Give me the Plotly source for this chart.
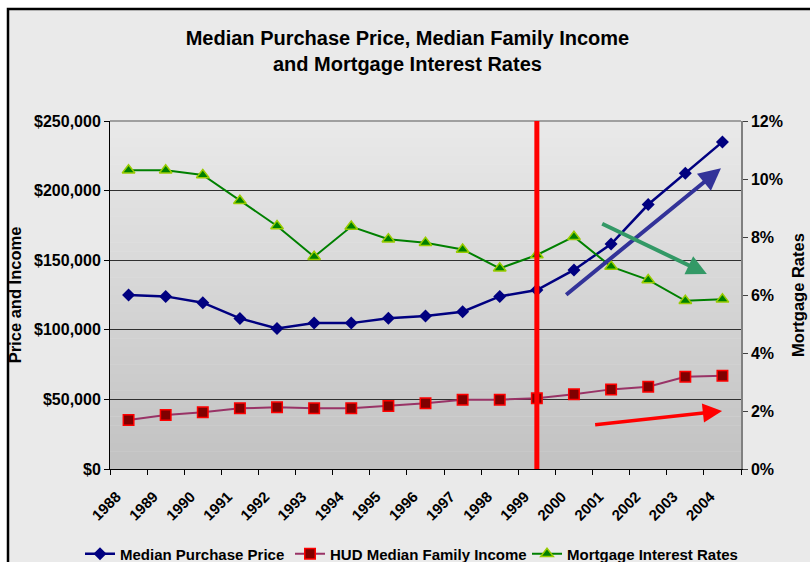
import plotly.graph_objects as go

years = [str(y) for y in range(1988, 2005)]
purchase_price = [125000, 124000, 119500, 108200, 101000, 104800, 104800, 108300, 110000,
                  113000, 124000, 128600, 143000, 161600, 190000, 212400, 235000]
family_income = [35200, 38800, 40700, 43600, 44300, 43600, 43600, 45300, 47200,
                 49800, 49800, 50800, 53700, 57200, 59100, 66300, 67000]
mortgage_rates = [0.1030, 0.1030, 0.1014, 0.0925, 0.0838, 0.0732, 0.0836, 0.0792, 0.0780,
                  0.0757, 0.0692, 0.0738, 0.0801, 0.0698, 0.0652, 0.0580, 0.0585]
marker_year = "1999"

FONT = "Liberation Sans, Arial, sans-serif"
W, H = 810, 562

fig = go.Figure()
fig.add_trace(go.Scatter(
    x=years, y=purchase_price, name="Median Purchase Price", mode="lines+markers",
    line=dict(color="#000080", width=2.5),
    marker=dict(symbol="diamond", size=10, color="#000080"),
    legend="legend",
))
fig.add_trace(go.Scatter(
    x=years, y=family_income, name="HUD Median Family Income", mode="lines+markers",
    line=dict(color="#993366", width=2),
    marker=dict(symbol="square", size=10.5, color="#800000", line=dict(color="#FF0000", width=1.5)),
    legend="legend2",
))
fig.add_trace(go.Scatter(
    x=years, y=mortgage_rates, name="Mortgage Interest Rates", mode="lines+markers", yaxis="y2",
    line=dict(color="#008000", width=2),
    marker=dict(symbol="triangle-up", size=11, color="#008000", line=dict(color="#99CC00", width=1.5)),
    legend="legend3",
))

L, R, T, B = 110, 69, 121, 93
pw, ph = W - L - R, H - T - B


def px_x(p):
    return (p - L) / pw


def px_y(p):
    return (H - B - p) / ph


shapes = []
# outer frame
shapes.append(dict(type="rect", xref="paper", yref="paper", x0=px_x(8), x1=px_x(830), y0=px_y(580), y1=px_y(9),
                   fillcolor="#EAEAEA", line=dict(color="black", width=2.5), layer="below"))
# gradient background bands for plot area
n = 40
for i in range(n):
    t = i / n
    c = int(round(193 + (234 - 193) * (t + 0.5 / n)))
    shapes.append(dict(type="rect", xref="paper", yref="paper", x0=0, x1=1,
                       y0=t, y1=(i + 1) / n + 0.001,
                       fillcolor=f"rgb({c},{c},{c})", line=dict(width=0), layer="below"))
# top border
shapes.append(dict(type="line", xref="paper", yref="paper", x0=0, x1=1, y0=1, y1=1,
                   line=dict(color="#A0A0A0", width=2), layer="above"))
# vertical red line at the marker year (category index)
mi = years.index(marker_year)
shapes.append(dict(type="line", xref="x", yref="paper", x0=mi, x1=mi, y0=0, y1=1,
                   line=dict(color="#FF0000", width=5), layer="above"))

annotations = [
    dict(x=15.96, y=216000, ax=11.75, ay=124300, xref="x", yref="y", axref="x", ayref="y",
         showarrow=True, arrowhead=2, arrowsize=1.1, arrowwidth=4, arrowcolor="#333399", text=""),
    dict(x=15.58, y=140100, ax=12.72, ay=176700, xref="x", yref="y", axref="x", ayref="y",
         showarrow=True, arrowhead=2, arrowsize=1.0, arrowwidth=4, arrowcolor="#339966", text=""),
    dict(x=15.99, y=41700, ax=12.53, ay=31600, xref="x", yref="y", axref="x", ayref="y",
         showarrow=True, arrowhead=2, arrowsize=1.1, arrowwidth=3.5, arrowcolor="#FF0000", text=""),
]

legend_font = dict(family=FONT, size=15, color="black", weight="bold")


def legend_at(px):
    return dict(orientation="h", xref="container", yref="container", x=px / W, xanchor="left",
                y=1 - 554 / H, yanchor="middle", bgcolor="rgba(0,0,0,0)", borderwidth=0,
                font=legend_font, itemwidth=30)


fig.update_layout(
    width=W, height=H,
    margin=dict(l=L, r=R, t=T, b=B, autoexpand=False),
    paper_bgcolor="white",
    plot_bgcolor="rgba(0,0,0,0)",
    font=dict(family=FONT, size=16, color="black"),
    title=dict(text="<b>Median Purchase Price, Median Family Income<br>and Mortgage Interest Rates</b>",
               x=0.503, xanchor="center", y=1 - 45 / H, yanchor="middle", yref="container",
               font=dict(family=FONT, size=20, color="black")),
    xaxis=dict(type="category", categoryorder="array", categoryarray=years, range=[-0.5, 16.5],
               tickangle=-45, ticks="outside", ticklen=5, tickson="boundaries", tickcolor="black",
               showline=True, linecolor="black", linewidth=1, showgrid=False, automargin=False,
               ticklabelstandoff=12, ticklabelshift=-12,
               tickfont=dict(family=FONT, size=15, color="black", weight="bold")),
    yaxis=dict(range=[0, 250000], dtick=50000, tickprefix="$", tickformat=",d",
               ticks="outside", ticklen=5, tickcolor="black", automargin=False,
               showline=True, linecolor="black", linewidth=1,
               showgrid=True, gridcolor="#303030", gridwidth=1, zeroline=False,
               tickfont=dict(family=FONT, size=16, color="black", weight="bold"),
               title=dict(text="Price and Income", standoff=8,
                          font=dict(family=FONT, size=16.5, color="black", weight="bold"))),
    yaxis2=dict(range=[0, 0.12], dtick=0.02, tickformat=".0%", overlaying="y", side="right",
                ticks="outside", ticklen=5, tickcolor="#404040", automargin=False,
                showline=True, linecolor="#808080", linewidth=1.5, showgrid=False, zeroline=False,
                tickfont=dict(family=FONT, size=16, color="black", weight="bold"),
                title=dict(text="Mortgage Rates", standoff=10,
                           font=dict(family=FONT, size=16.5, color="black", weight="bold"))),
    legend=legend_at(80),
    legend2=legend_at(290),
    legend3=legend_at(527),
    shapes=shapes,
    annotations=annotations,
    showlegend=True,
)

fig.write_html("out.html", config={"displayModeBar": False},
               post_script="document.body.style.margin='0px';document.body.style.overflow='hidden';")
